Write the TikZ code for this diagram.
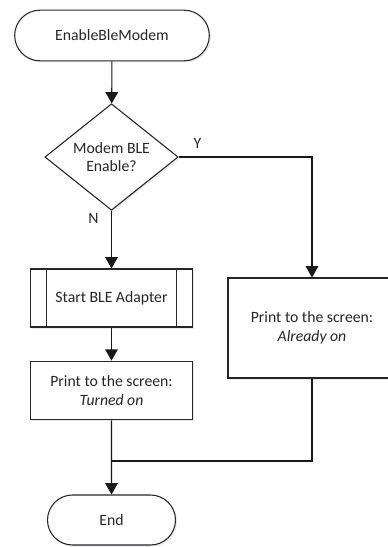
\documentclass[tikz,border=0pt]{standalone}
\usepackage{fontspec}
\setmainfont{Carlito}
\usetikzlibrary{arrows.meta,shapes.geometric,shapes.misc,shadows}

\tikzset{
    block/.style={draw=black!85, fill=white, line width=0.8pt, inner sep=2pt, align=center,
        drop shadow={shadow xshift=1.2pt, shadow yshift=-1.2pt, fill=blue!10!gray!25, opacity=0.6}},
    terminal/.style={block, rounded rectangle},
    decision/.style={block, diamond, inner sep=0pt},
    flow/.style={line width=0.8pt, draw=black!90, -{Triangle[width=9.5pt,length=8.5pt]}},
    link/.style={line width=0.8pt, draw=black!90},
}

\begin{document}
\begin{tikzpicture}[x=0.75pt,y=-0.75pt,font=\fontsize{11.8}{14}\selectfont,text=black!85]
    \useasboundingbox (0,0) rectangle (388,547);
    \clip (0,0) rectangle (388,547);

    \node [terminal, minimum width=150pt, minimum height=38pt] (start) at (112,35.5) {EnableBleModem};
    \node [decision, minimum width=100pt, minimum height=73pt] (modem) at (111.5,157) {Modem BLE\\Enable?};
    \node [block, minimum width=122pt, minimum height=43.5pt] (adapter) at (111.5,298) {Start BLE Adapter};
    \draw [line width=0.8pt, draw=black!85] ([xshift=12.75pt]adapter.north west) -- ([xshift=12.75pt]adapter.south west)
                                          ([xshift=-12.75pt]adapter.north east) -- ([xshift=-12.75pt]adapter.south east);
    \node [block, minimum width=122pt, minimum height=44pt] (turnedon) at (111.5,390.5) {Print to the screen:\\\textit{Turned on}};
    \node [block, minimum width=126pt, minimum height=75pt] (already) at (312,328) {Print to the screen:\\\textit{Already on}};
    \node [terminal, minimum width=100pt, minimum height=37.5pt] (finish) at (111.5,520) {End};
    \coordinate (join) at (112,461);

    \draw [flow] (start) -- (modem);
    \draw [flow] (modem) -- node [pos=0.13, left=6pt] {N} (adapter);
    \draw [flow] (modem.east) -| node [pos=0.07, above, yshift=3pt] {Y} (already.north);
    \draw [flow] (adapter) -- (turnedon);
    \draw [link] (already.south) |- (join);
    \draw [flow] (turnedon) -- (finish);
\end{tikzpicture}
\end{document}
